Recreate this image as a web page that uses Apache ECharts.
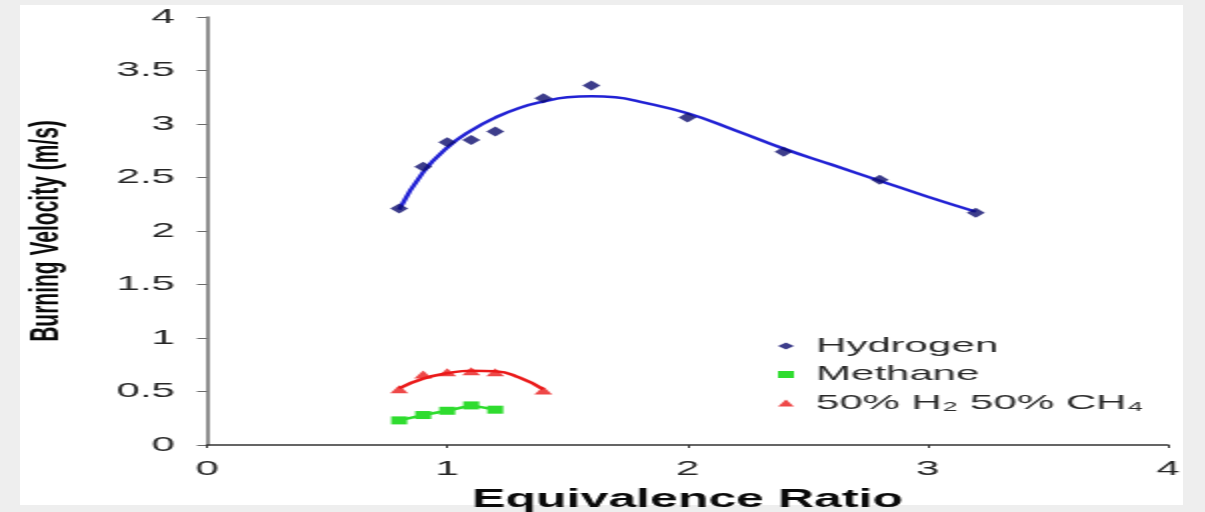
<!DOCTYPE html>
<html>
<head>
<meta charset="utf-8">
<script src="https://cdn.jsdelivr.net/npm/echarts@6/dist/echarts.min.js"></script>
<style>
  html, body { margin: 0; padding: 0; width: 1205px; height: 512px; overflow: hidden; background: #eeeeee; }
  #panel { position: absolute; left: 20px; top: 5px; width: 1163px; height: 500px; background: #ffffff; }
  #chart { position: absolute; left: 0; top: 0; width: 603px; height: 512px; transform: scaleX(2); transform-origin: 0 0; }
</style>
</head>
<body>
<div id="panel"></div>
<div id="chart"></div>
<script>
// Measured points
const hydrogenX = [0.8, 0.9, 1.0, 1.1, 1.2, 1.4, 1.6, 2.0, 2.4, 2.8, 3.2];
const hydrogenY = [2.21, 2.60, 2.83, 2.85, 2.93, 3.24, 3.36, 3.06, 2.74, 2.48, 2.17];
const methaneX = [0.8, 0.9, 1.0, 1.1, 1.2];
const methaneY = [0.23, 0.28, 0.32, 0.37, 0.33];
const mixX = [0.8, 0.9, 1.0, 1.1, 1.2, 1.4];
const mixY = [0.52, 0.66, 0.68, 0.69, 0.68, 0.51];
// Trend curves
const hydrogenFitX = [0.8, 0.9, 1.0, 1.1, 1.2, 1.3, 1.4, 1.5, 1.6, 1.7, 1.8, 2.0, 2.2, 2.4, 2.6, 2.8, 3.0, 3.2];
const hydrogenFitY = [2.20, 2.55, 2.78, 2.94, 3.06, 3.15, 3.21, 3.25, 3.26, 3.25, 3.21, 3.10, 2.94, 2.77, 2.62, 2.47, 2.32, 2.18];
const mixFitX = [0.8, 0.9, 1.0, 1.1, 1.2, 1.3, 1.4];
const mixFitY = [0.53, 0.62, 0.67, 0.695, 0.69, 0.63, 0.52];
// Labels
const seriesNames = ['Hydrogen', 'Methane', '50% H\u2082 50% CH\u2084'];
const xTitle = 'Equivalence Ratio';
const yTitle = 'Burning Velocity (m/s)';

const pairs = (xs, ys) => xs.map((x, i) => [x, ys[i]]);
const FONT = "'Liberation Sans', Arial, Helvetica, sans-serif";

const chart = echarts.init(document.getElementById('chart'), null, { renderer: 'canvas' });
chart.setOption({
  animation: false,
  backgroundColor: 'transparent',
  grid: { left: 103.5, right: 19, top: 17, bottom: 67, containLabel: false, outerBoundsMode: 'none' },
  legend: {
    orient: 'vertical',
    left: 384,
    top: 330,
    itemWidth: 8,
    itemHeight: 7,
    itemGap: 6.5,
    textStyle: { fontFamily: FONT, fontSize: 21, color: '#2a2a2a', lineHeight: 22, padding: [0, 0, 0, 6] },
    data: [
      { name: seriesNames[0], icon: 'diamond', itemStyle: { color: '#0c0c6e' } },
      { name: seriesNames[1], icon: 'rect' },
      { name: seriesNames[2], icon: 'triangle' }
    ]
  },
  xAxis: {
    type: 'value', min: 0, max: 4, interval: 1,
    name: xTitle, nameLocation: 'middle', nameGap: 43,
    nameTextStyle: { fontFamily: FONT, fontSize: 25, fontWeight: 'bold', color: '#0a0a0a' },
    axisLine: { show: true, lineStyle: { color: '#333333', width: 1.5 } },
    axisTick: { show: true, length: 3, lineStyle: { color: '#333333', width: 1 } },
    axisLabel: { fontFamily: FONT, fontSize: 21, color: '#262626', margin: 14 },
    splitLine: { show: false }
  },
  yAxis: {
    type: 'value', min: 0, max: 4, interval: 0.5,
    name: yTitle, nameLocation: 'middle', nameGap: 70,
    nameTextStyle: { fontFamily: FONT, fontSize: 21, fontWeight: 'bold', color: '#0a0a0a' },
    axisLine: { show: true, lineStyle: { color: '#6a6a6a', width: 1.5 } },
    axisTick: { show: true, length: 5, lineStyle: { color: '#6a6a6a', width: 1 } },
    axisLabel: { fontFamily: FONT, fontSize: 21, color: '#262626', margin: 16 },
    splitLine: { show: false }
  },
  series: [
    {
      name: 'Hydrogen trend', type: 'line', smooth: true, showSymbol: false, silent: true,
      data: pairs(hydrogenFitX, hydrogenFitY),
      lineStyle: { color: '#2222d4', width: 2.5 }, z: 2
    },
    {
      name: '50% mix trend', type: 'line', smooth: true, showSymbol: false, silent: true,
      data: pairs(mixFitX, mixFitY),
      lineStyle: { color: '#ea1a1a', width: 2.5 }, z: 2
    },
    {
      name: seriesNames[0], type: 'scatter', symbol: 'diamond', symbolSize: [9, 10],
      data: pairs(hydrogenX, hydrogenY),
      itemStyle: { color: '#0c0c6e' }, z: 3
    },
    {
      name: seriesNames[1], type: 'line', symbol: 'rect', symbolSize: [8, 8], showAllSymbol: true,
      data: pairs(methaneX, methaneY),
      lineStyle: { color: '#2fdc2f', width: 2.5 },
      itemStyle: { color: '#2fdc2f' }, z: 3
    },
    {
      name: seriesNames[2], type: 'scatter', symbol: 'triangle', symbolSize: [9, 8],
      data: pairs(mixX, mixY),
      itemStyle: { color: '#ea1a1a' }, z: 3
    }
  ]
});
</script>
</body>
</html>
